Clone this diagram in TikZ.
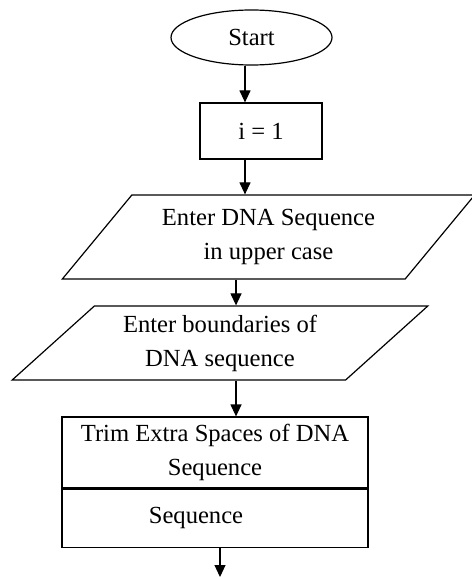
\documentclass[tikz,border=0pt]{standalone}
\usepackage{fontspec}
\setmainfont{Liberation Serif}
\usetikzlibrary{shapes.geometric,arrows.meta,positioning}
\tikzstyle{startstop} = [ellipse, draw, minimum width=80.5pt, minimum height=27.5pt, inner sep=0pt]
\tikzstyle{process}   = [rectangle, draw, align=center]
\tikzstyle{io}        = [trapezium, trapezium stretches=true, draw, align=center, inner sep=0pt]
\tikzstyle{arrow}     = [line width=0.6pt, -{Triangle[width=5.5pt,length=6pt]}]

\begin{document}
\begin{tikzpicture}[x=0.5pt,y=-0.5pt, every node/.style={font=\fontsize{12.3}{17}\selectfont, line width=0.6pt}]
		\useasboundingbox (0,0) rectangle (471,577);

		\node[startstop] (start) at (251.5,37.5) {Start};
		\node[process, minimum width=61pt, minimum height=28pt] (ione) at (261,131) {i = 1};
		\node[io, trapezium left angle=45.7, trapezium right angle=134.3, minimum width=206.5pt, minimum height=42pt] (dnain) at (268.5,237) {Enter DNA Sequence\\in upper case};
		\node[io, trapezium left angle=41.7, trapezium right angle=138.3, minimum width=208pt, minimum height=37pt] (bounds) at (220,343) {Enter boundaries of\\DNA sequence};
		\node[process, minimum width=153pt, minimum height=35.5pt] (trim) at (215,452.5) {Trim Extra Spaces of DNA\\Sequence};
		\node[process, minimum width=153pt, minimum height=29pt, anchor=north] (seq) at (trim.south) {Sequence\hspace*{19pt}};
		\coordinate (next) at (220,577);

		\draw[arrow] ([xshift=-3.25pt]start.south) -- ([xshift=-3.25pt]start.south |- ione.north);
		\draw[arrow] ([xshift=-8pt]ione.south) -- ([xshift=-8pt]ione.south |- dnain.north);
		\draw[arrow] ([xshift=-16.25pt]dnain.south) -- ([xshift=-16.25pt]dnain.south |- bounds.north);
		\draw[arrow] ([xshift=8pt]bounds.south) -- ([xshift=8pt]bounds.south |- trim.north);
		\draw[arrow] (seq.south -| next) -- (next);
	\end{tikzpicture}
\end{document}
